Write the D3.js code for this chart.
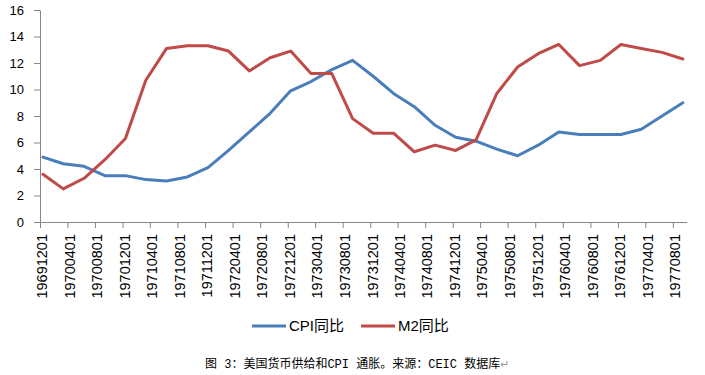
<!DOCTYPE html>
<html>
<head>
<meta charset="utf-8">
<script src="https://cdn.jsdelivr.net/npm/d3@7"></script>
<style>
  body { margin: 0; background: #fff; }
  svg { display: block; font-family: "Liberation Sans", "Noto Sans CJK SC", sans-serif; }
  .axis path, .axis line { stroke: #868686; }
  .axis text { fill: #000; }
</style>
</head>
<body>
<div id="chart"></div>
<script>
// quarterly observations
const months = [
  "1969-12", "1970-03", "1970-06", "1970-09", "1970-12", "1971-03", "1971-06", "1971-09",
  "1971-12", "1972-03", "1972-06", "1972-09", "1972-12", "1973-03", "1973-06", "1973-09",
  "1973-12", "1974-03", "1974-06", "1974-09", "1974-12", "1975-03", "1975-06", "1975-09",
  "1975-12", "1976-03", "1976-06", "1976-09", "1976-12", "1977-03", "1977-06", "1977-09"
];
const cpi = [
  4.9, 4.4, 4.2, 3.5, 3.5, 3.2, 3.1, 3.4,
  4.1, 5.4, 6.8, 8.2, 9.9, 10.6, 11.5, 12.2,
  11.0, 9.7, 8.7, 7.3, 6.4, 6.1, 5.5, 5.0,
  5.8, 6.8, 6.6, 6.6, 6.6, 7.0, 8.0, 9.0
];
const m2 = [
  3.6, 2.5, 3.3, 4.7, 6.3, 10.7, 13.1, 13.3,
  13.3, 12.9, 11.4, 12.4, 12.9, 11.2, 11.2, 7.8,
  6.7, 6.7, 5.3, 5.8, 5.4, 6.2, 9.7, 11.7,
  12.7, 13.4, 11.8, 12.2, 13.4, 13.1, 12.8, 12.3
];
const tickLabels = [
  "19691201", "19700401", "19700801", "19701201", "19710401", "19710801",
  "19711201", "19720401", "19720801", "19721201", "19730401", "19730801",
  "19731201", "19740401", "19740801", "19741201", "19750401", "19750801",
  "19751201", "19760401", "19760801", "19761201", "19770401", "19770801"
];
const yTicks = [0, 2, 4, 6, 8, 10, 12, 14, 16];

const blue = "#4a7ebb",
  red = "#be4b48";

const svg = d3
  .select("#chart")
  .append("svg")
  .attr("width", 705)
  .attr("height", 375);

const parseMonth = d3.timeParse("%Y-%m"),
  parseTick = d3.timeParse("%Y%m%d");

// points sit mid-month on the date axis
const dates = months.map(m => d3.timeDay.offset(parseMonth(m), 13));

const x = d3
  .scaleTime()
  .domain([new Date(1969, 11, 1), new Date(1977, 9, 1)])
  .range([40, 686.7]);
const y = d3.scaleLinear().domain([0, 16]).range([222, 10]);

// y axis
svg
  .append("g")
  .attr("class", "axis")
  .attr("transform", "translate(40,0)")
  .call(d3.axisLeft(y).tickValues(yTicks).tickSize(6).tickSizeOuter(0).tickPadding(10))
  .call(g => g.selectAll("text").style("font-size", "13px"));

// x axis with rotated date labels
svg
  .append("g")
  .attr("class", "axis")
  .attr("transform", "translate(0,222)")
  .call(
    d3
      .axisBottom(x)
      .tickValues(tickLabels.map(parseTick))
      .tickFormat(d3.timeFormat("%Y%m%d"))
      .tickSize(6)
      .tickSizeOuter(0)
  )
  .call(g =>
    g
      .selectAll("text")
      .style("font-size", "14.5px")
      .attr("text-anchor", "end")
      .attr("transform", "rotate(-90)")
      .attr("x", -12)
      .attr("y", 1.7)
      .attr("dy", "0.35em")
  );

const line = d3
  .line()
  .x((d, i) => x(dates[i]))
  .y(d => y(d));

svg
  .append("path")
  .datum(cpi)
  .attr("d", line)
  .attr("fill", "none")
  .attr("stroke", blue)
  .attr("stroke-width", 3)
  .attr("stroke-linejoin", "round")
  .attr("stroke-linecap", "round");

svg
  .append("path")
  .datum(m2)
  .attr("d", line)
  .attr("fill", "none")
  .attr("stroke", red)
  .attr("stroke-width", 3)
  .attr("stroke-linejoin", "round")
  .attr("stroke-linecap", "round");

// legend
const legend = [
  { name: "CPI同比", color: blue, x: 252 },
  { name: "M2同比", color: red, x: 361 }
];
const lg = svg
  .append("g")
  .selectAll("g")
  .data(legend)
  .enter()
  .append("g")
  .attr("transform", d => "translate(" + d.x + ",326)");
lg.append("line")
  .attr("x1", 0)
  .attr("x2", 34)
  .attr("stroke", d => d.color)
  .attr("stroke-width", 3);
lg.append("text")
  .attr("x", 37)
  .attr("dy", "0.36em")
  .style("font-size", "15px")
  .text(d => d.name);

// caption
const caption = svg
  .append("text")
  .attr("x", 205)
  .attr("y", 363)
  .attr("dy", "0.38em")
  .style("font-family", '"Liberation Mono", "Noto Sans CJK SC", monospace')
  .style("font-size", "12px");
caption.append("tspan").text("图 3：美国货币供给和CPI 通胀。来源：CEIC 数据库");
caption
  .append("tspan")
  .attr("fill", "#9a9a9a")
  .style("font-family", '"DejaVu Sans", sans-serif')
  .style("font-size", "11px")
  .text("↵");
</script>
</body>
</html>
